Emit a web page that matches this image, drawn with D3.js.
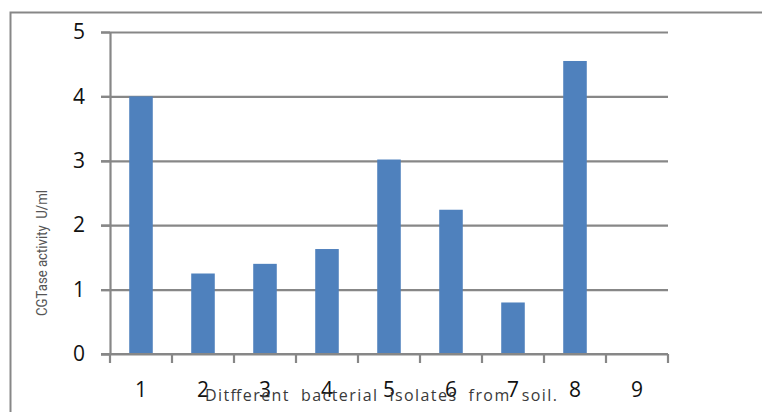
<!DOCTYPE html>
<html>
<head>
<meta charset="utf-8">
<script src="https://cdn.jsdelivr.net/npm/d3@7"></script>
<style>
  html, body { margin: 0; padding: 0; background: #fff; }
  svg { display: block; }
  .title { white-space: pre; }
</style>
</head>
<body>
<svg id="chart" width="762" height="412"></svg>
<script>
// CGTase activity of bacterial isolates
const isolates = ["1", "2", "3", "4", "5", "6", "7", "8", "9"];
const activity = [4.0, 1.25, 1.4, 1.63, 3.02, 2.24, 0.8, 4.55, 0];
const yTicks = [0, 1, 2, 3, 4, 5];
const yTitle = "CGTase activity  U/ml";
const xTitle = "Ditfferent  bacterial  isolates  from  soil.";

const svg = d3.select("#chart");
const gray = "#878787";
const plotLeft = 110, plotRight = 668, plotTop = 32, plotBottom = 354;

// outer frame (runs off the right and bottom edges)
svg.append("rect")
  .attr("x", 10.5).attr("y", 12.5)
  .attr("width", 800).attr("height", 450)
  .attr("fill", "none").attr("stroke", gray).attr("stroke-width", 2);

const x = d3.scaleBand().domain(isolates).range([plotLeft, plotRight])
  .paddingInner(0.62).paddingOuter(0.31);
const step = x.step();
const y = d3.scaleLinear().domain([0, 5]).range([plotBottom, plotTop]);

// horizontal gridlines with outward ticks
const grid = svg.append("g").attr("transform", `translate(${plotLeft},0)`)
  .call(d3.axisLeft(y).tickValues(yTicks).tickSize(-(plotRight - plotLeft)).tickFormat(""));
grid.select(".domain").remove();
grid.selectAll(".tick line").attr("stroke", gray).attr("stroke-width", 2.2).attr("x1", -9);

// y axis with labels
const yAxis = svg.append("g").attr("transform", `translate(${plotLeft},0)`)
  .call(d3.axisLeft(y).tickValues(yTicks).tickFormat(d3.format("d"))
    .tickSize(9).tickPadding(16).tickSizeOuter(0));
yAxis.select(".domain").attr("stroke", gray).attr("stroke-width", 2.2);
yAxis.selectAll(".tick line").attr("stroke", gray).attr("stroke-width", 2.2);
yAxis.selectAll(".tick text")
  .attr("font-family", "'Open Sans', sans-serif").attr("font-size", 21).attr("fill", "#111");

// bars
svg.append("g").selectAll("rect")
  .data(isolates.map((c, i) => ({ c, v: activity[i] })).filter(d => d.v > 0))
  .join("rect")
  .attr("x", d => x(d.c))
  .attr("y", d => y(d.v))
  .attr("width", x.bandwidth())
  .attr("height", d => y(0) - y(d.v))
  .attr("fill", "#4F81BD");

// x axis line and category boundary ticks
const boundaries = isolates.map(c => x(c) - step * 0.31).concat([plotRight]);
svg.append("line")
  .attr("x1", plotLeft - 9).attr("x2", plotRight)
  .attr("y1", plotBottom).attr("y2", plotBottom)
  .attr("stroke", gray).attr("stroke-width", 2.2);
svg.append("g").selectAll("line")
  .data(boundaries).join("line")
  .attr("x1", d => d).attr("x2", d => d)
  .attr("y1", plotBottom).attr("y2", plotBottom + 9)
  .attr("stroke", gray).attr("stroke-width", 2.2);

// x tick labels
const xAxis = svg.append("g").attr("transform", `translate(0,${plotBottom})`)
  .call(d3.axisBottom(x).tickSize(0).tickPadding(28));
xAxis.select(".domain").remove();
xAxis.selectAll(".tick text")
  .attr("font-family", "'Open Sans', sans-serif").attr("font-size", 21).attr("fill", "#111");

// axis titles
svg.append("text")
  .attr("class", "title")
  .attr("transform", "translate(47,253) rotate(-90)")
  .attr("text-anchor", "middle")
  .attr("font-family", "'Liberation Sans Narrow', 'Roboto', sans-serif")
  .attr("font-size", 14)
  .attr("fill", "#555")
  .attr("textLength", 126).attr("lengthAdjust", "spacingAndGlyphs")
  .text(yTitle);

svg.append("text")
  .attr("class", "title")
  .attr("x", 381).attr("y", 401)
  .attr("text-anchor", "middle")
  .attr("font-family", "'Open Sans', sans-serif")
  .attr("font-size", 16)
  .attr("fill", "#3a3a3a")
  .attr("textLength", 352).attr("lengthAdjust", "spacing")
  .text(xTitle);
</script>
</body>
</html>
